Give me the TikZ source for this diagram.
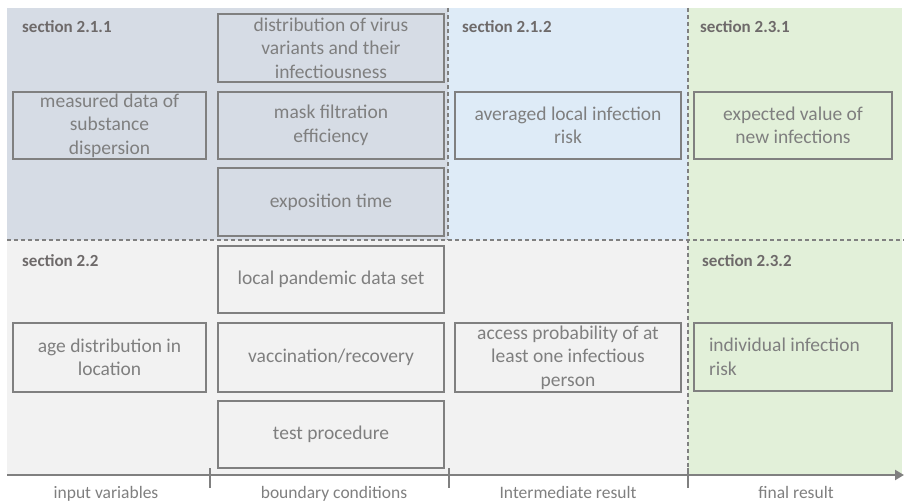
\documentclass[tikz,border=0pt]{standalone}
\usepackage{fontspec}
\setmainfont{Carlito}
\usetikzlibrary{arrows.meta}
\definecolor{tlfill}{HTML}{D6DCE5}
\definecolor{bluefill}{HTML}{DEEBF7}
\definecolor{greenfill}{HTML}{E2F0D9}
\definecolor{greyfill}{HTML}{F2F2F2}
\definecolor{boxgray}{HTML}{808080}
\definecolor{txtgray}{HTML}{7F7F7F}
\definecolor{secgray}{HTML}{6E6A6A}
\begin{document}
\begin{tikzpicture}[x=1pt,y=-1pt,
  box/.style={draw=boxgray, line width=1.5pt, align=center, inner sep=0pt,
    font=\fontsize{19.5}{23.5}\selectfont, text=txtgray},
  widebox/.style={box, minimum width=226pt},
  narrowbox/.style={box, minimum width=193pt},
  rightbox/.style={box, minimum width=198pt},
  seclabel/.style={anchor=west, inner sep=0pt, font=\fontsize{17}{20}\selectfont\bfseries, text=secgray},
  axislabel/.style={anchor=base, inner sep=0pt, font=\fontsize{17.5}{20}\selectfont, text=txtgray},
  divider/.style={draw=boxgray, line width=1.2pt, dash pattern=on 4pt off 3pt},
  tick/.style={draw=boxgray, line width=1.5pt}]
\useasboundingbox (0,0) rectangle (904,502);
% background regions
\fill[tlfill] (7,8) rectangle (448,240);
\fill[bluefill] (448,8) rectangle (688,240);
\fill[greyfill] (7,240) rectangle (688,475);
\fill[greenfill] (688,8) rectangle (902,475);
% dividers
\draw[divider] (448,8) -- (448,240);
\draw[divider] (688,8) -- (688,475);
\draw[divider] (7,240) -- (904,240);
% section labels
\node[seclabel] (s211) at (22,27) {section 2.1.1};
\node[seclabel] (s212) at (462,27) {section 2.1.2};
\node[seclabel] (s231) at (700,27) {section 2.3.1};
\node[seclabel] (s22) at (22,261) {section 2.2};
\node[seclabel] (s232) at (702,261) {section 2.3.2};
% boxes
\node[widebox, minimum height=68pt] (dist) at (331,48) {distribution of virus\\variants and their\\infectiousness};
\node[narrowbox, minimum height=67pt] (meas) at (109.5,125.5) {measured data of\\substance\\dispersion};
\node[widebox, minimum height=67pt] (mask) at (331,125.5) {mask filtration\\efficiency};
\node[widebox, minimum height=68pt] (expo) at (331,202) {exposition time};
\node[widebox, minimum height=67pt] (avg) at (568,125.5) {averaged local infection\\risk};
\node[rightbox, minimum height=67pt] (expv) at (793,125.5) {expected value of\\new infections};
\node[widebox, minimum height=67pt] (local) at (331,279.5) {local pandemic data set};
\node[narrowbox, minimum height=69pt] (age) at (109.5,357.5) {age distribution in\\location};
\node[widebox, minimum height=69pt] (vacc) at (331,357.5) {vaccination/recovery};
\node[widebox, minimum height=67pt] (test) at (331,434.5) {test procedure};
\node[widebox, minimum height=69pt] (access) at (568,357.5) {access probability of at\\least one infectious\\person};
\node[rightbox, minimum height=68pt, align=flush left, text width=168pt, inner xsep=15pt] (indiv) at (793,357) {individual infection\\risk};
% axis
\coordinate (axstart) at (7,475);
\coordinate (axend) at (904,475);
\draw[draw=boxgray, line width=2pt, -{Triangle[length=9pt,width=10pt]}] (axstart) -- (axend);
\foreach \xx/\nm in {210/ta,449/tb,688/tc}{
  \coordinate (\nm1) at (\xx,468);
  \coordinate (\nm2) at (\xx,488);
  \draw[tick] (\nm1) -- (\nm2);
}
\node[axislabel] (l1) at (106,498) {input variables};
\node[axislabel] (l2) at (334,498) {boundary conditions};
\node[axislabel] (l3) at (568,498) {Intermediate result};
\node[axislabel] (l4) at (796,498) {final result};
\end{tikzpicture}
\end{document}
